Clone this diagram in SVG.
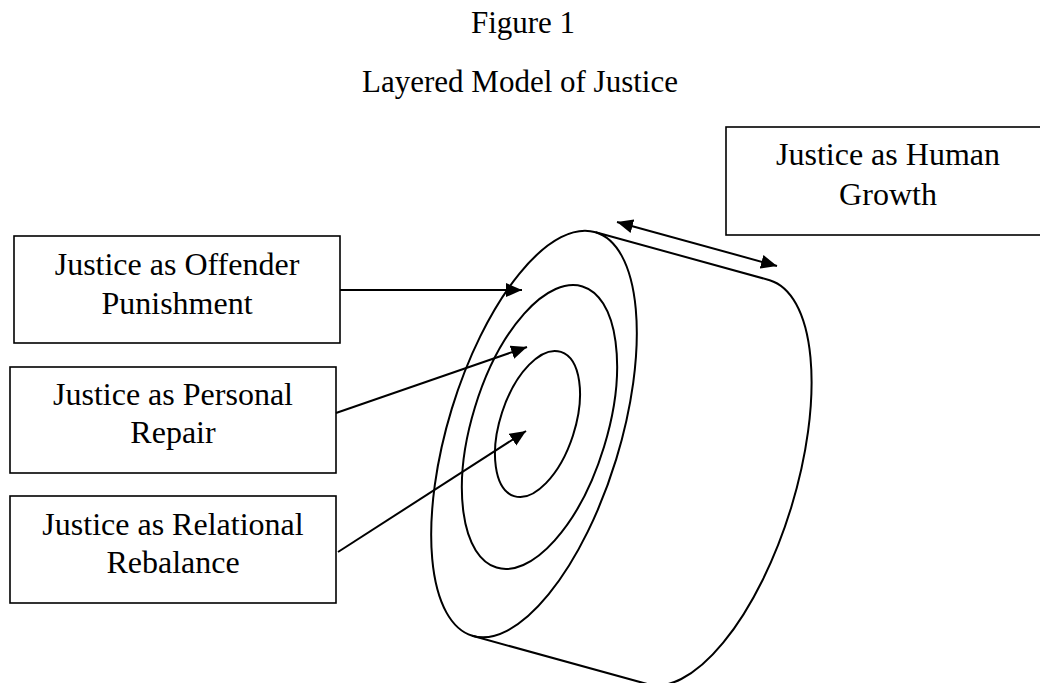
<svg xmlns="http://www.w3.org/2000/svg" width="1040" height="683" viewBox="0 0 1040 683">
<style>
text{font-family:"Liberation Serif","Times New Roman",serif;font-size:32px;fill:#000;text-anchor:middle}
.ttl{font-size:31px}
.box{fill:#fff;stroke:#000;stroke-width:1.6}
.ln{fill:none;stroke:#000;stroke-width:2}
.con{fill:none;stroke:#000;stroke-width:2}
</style>
<defs>
<marker id="ah" markerUnits="userSpaceOnUse" markerWidth="18" markerHeight="16" refX="16" refY="7" orient="auto-start-reverse" viewBox="0 0 18 14">
<path d="M0,0 L16,7 L0,14 Z" fill="#000"/>
</marker>
</defs>
<rect width="1040" height="683" fill="#fff"/>
<g id="title">
<text class="ttl" x="523" y="33">Figure 1</text>
<text class="ttl" x="520" y="92">Layered Model of Justice</text>
</g>
<g id="cylinder">
<path class="ln" d="M595.7,232.2 L769.7,280.2 A87,211 17 0 1 646.3,683.8 L472.3,635.8"/>
<ellipse id="outer" class="ln" cx="534" cy="434" rx="86" ry="211" transform="rotate(17 534 434)"/>
<ellipse id="middle" class="ln" cx="539.5" cy="427" rx="67.5" ry="147" transform="rotate(17 539.5 427)"/>
<ellipse id="inner" class="ln" cx="537.5" cy="424" rx="37.3" ry="75.8" transform="rotate(18 537.5 424)"/>
</g>
<g id="node-human-growth">
<rect class="box" x="726" y="127" width="330" height="108"/>
<text x="888" y="165">Justice as Human</text>
<text x="888" y="205">Growth</text>
</g>
<g id="node-offender">
<rect class="box" x="14" y="236" width="326" height="107"/>
<text x="177" y="275">Justice as Offender</text>
<text x="177" y="314">Punishment</text>
</g>
<g id="node-personal">
<rect class="box" x="10" y="367" width="326" height="106"/>
<text x="173" y="405">Justice as Personal</text>
<text x="173" y="443">Repair</text>
</g>
<g id="node-relational">
<rect class="box" x="10" y="496" width="326" height="107"/>
<text x="173" y="535">Justice as Relational</text>
<text x="173" y="573">Rebalance</text>
</g>
<g id="connectors">
<line class="con" x1="340" y1="290" x2="522" y2="290" marker-end="url(#ah)"/>
<line class="con" x1="336" y1="413" x2="527" y2="347" marker-end="url(#ah)"/>
<line class="con" x1="338" y1="552" x2="526" y2="431" marker-end="url(#ah)"/>
<line class="con" x1="617" y1="222" x2="777" y2="266" marker-start="url(#ah)" marker-end="url(#ah)"/>
</g>
</svg>
